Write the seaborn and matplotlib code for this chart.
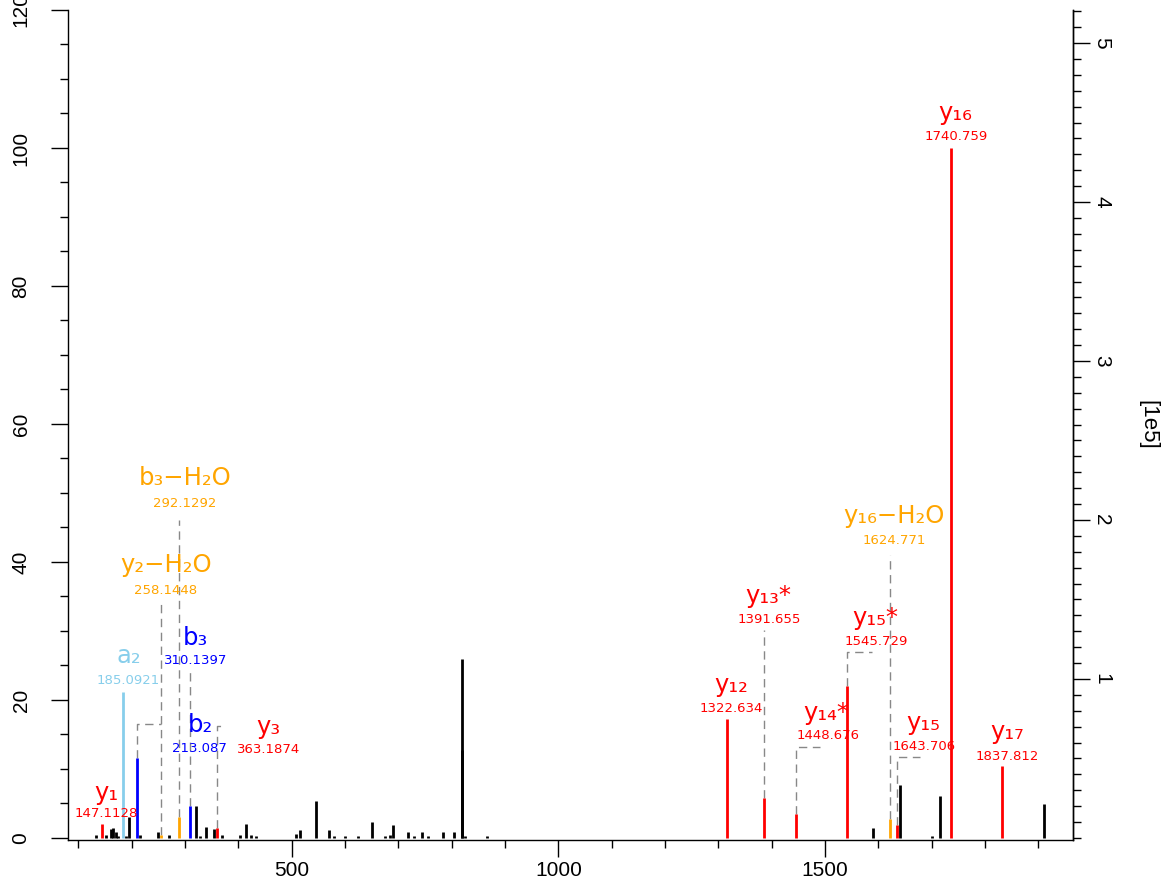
import numpy as np
import pandas as pd
import seaborn as sns
import matplotlib.pyplot as plt
from matplotlib.ticker import MultipleLocator

# unannotated peaks (m/z, relative intensity %)
other_mz = [133, 152, 160.6, 165.6, 170, 174, 188.7, 195, 215.6, 250, 270, 320, 329,
            339.4, 354.4, 370, 403, 414.4, 424, 434, 508, 515, 545, 570, 579, 600,
            625, 650, 675, 684, 690.6, 719, 730, 744, 755, 784, 804, 818.5, 819.8,
            825, 866, 1590.7, 1641, 1701, 1715.6, 1911]
other_int = [0.4, 0.4, 1.3, 1.5, 0.9, 0.3, 0.3, 3.1, 0.4, 0.8, 0.4, 4.6, 0.3,
             1.6, 1.3, 0.4, 0.4, 2.0, 0.4, 0.3, 0.5, 1.1, 5.4, 1.1, 0.3, 0.3,
             0.3, 2.3, 0.3, 0.4, 1.9, 0.8, 0.3, 0.8, 0.3, 0.8, 0.8, 25.9, 12.7,
             0.3, 0.3, 1.5, 7.6, 0.3, 6.1, 4.9]

# annotated fragment ions
ion_names = ["y₁", "a₂", "b₂", "y₂−H₂O", "b₃−H₂O", "b₃", "y₃", "y₁₂", "y₁₃*",
             "y₁₄*", "y₁₅*", "y₁₆−H₂O", "y₁₅", "y₁₆", "y₁₇"]
ion_mz_text = ["147.1128", "185.0921", "213.087", "258.1448", "292.1292", "310.1397",
               "363.1874", "1322.634", "1391.655", "1448.676", "1545.729", "1624.771",
               "1643.706", "1740.759", "1837.812"]
ion_mz = [144, 184.4, 210.6, 254.5, 289.3, 309.4, 359.4, 1315.8, 1385.7, 1445.7,
          1541.5, 1621.6, 1635.6, 1735.8, 1831.5]
ion_int = [2.0, 21.2, 11.6, 0.4, 3.1, 4.6, 1.5, 17.3, 5.75, 3.5, 22.0, 2.7, 1.9,
           100, 10.4]
ion_type = ["y", "a", "b", "loss", "loss", "b", "y", "y", "y", "y", "y", "loss",
            "y", "y", "y"]

# label layout: (m/z, %) of ion name and of m/z text
name_x = [153, 194, 328, 264, 300, 319, 456, 1325, 1393, 1503, 1594, 1630, 1684, 1745, 1841]
name_y = [6.5, 26.3, 16.4, 39.6, 52.2, 29.0, 16.1, 22.2, 35.0, 18.1, 31.9, 46.6, 16.7, 105.1, 15.4]
mzlab_x = [153, 194, 327, 264, 299, 320, 457, 1325, 1395, 1506, 1597, 1630, 1686, 1746, 1841]
mzlab_y = [3.5, 22.8, 13.0, 35.9, 48.5, 25.7, 12.75, 18.8, 31.6, 14.9, 28.4, 43.1, 13.2, 101.6, 11.8]

# dashed leader lines: start peak m/z, start %, elbow %, end m/z
lead_mz = [210.6, 254.5, 289.3, 309.4, 359.4, 1385.7, 1445.7, 1541.5, 1621.6, 1635.6]
lead_from = [11.6, 0.4, 3.1, 4.6, 1.5, 5.75, 3.5, 22.0, 2.7, 1.9]
lead_to = [16.5, 34.1, 46.1, 24.3, 16.2, 30.1, 13.2, 26.9, 41.0, 11.7]
lead_end = [254.5, 254.5, 289.3, 309.4, 375, 1385.7, 1490, 1587.7, 1621.6, 1678]

max_abs = 4.34e5  # absolute intensity of the base peak

palette = {"y": "#FF0000", "b": "#0000FF", "a": "#87CEEB", "loss": "#FFA500"}

sns.set_style("ticks")
plt.rcParams['font.family'] = ['Liberation Sans', 'DejaVu Sans']
plt.rcParams['text.color'] = 'black'
plt.rcParams['xtick.color'] = 'black'
plt.rcParams['ytick.color'] = 'black'

fig = plt.figure(figsize=(11.64, 8.83), dpi=100)
ax = fig.add_axes([68 / 1164, 43 / 883, 1005 / 1164, 830 / 883])

peaks = pd.DataFrame({"mz": other_mz, "intensity": other_int})
ions = pd.DataFrame({"mz": ion_mz, "intensity": ion_int, "type": ion_type,
                     "name": ion_names, "label": ion_mz_text})

ax.vlines(peaks["mz"], 0, peaks["intensity"], colors="black", linewidth=2.0)

for i in range(len(lead_mz)):
    xs = [lead_mz[i], lead_mz[i], lead_end[i]]
    ys = [lead_from[i], lead_to[i], lead_to[i]]
    ax.plot(xs, ys, color="#888888", linewidth=1.0, dashes=(6, 4), zorder=1)

ax.vlines(ions["mz"], 0, ions["intensity"],
          colors=[palette[t] for t in ions["type"]], linewidth=2.0, zorder=3)

for i, row in ions.iterrows():
    c = palette[row["type"]]
    ax.text(name_x[i], name_y[i], row["name"], color=c, fontsize=17.5,
            ha="center", va="center", family="DejaVu Sans")
    ax.text(mzlab_x[i], mzlab_y[i], row["label"], color=c, fontsize=9.5,
            ha="center", va="center", family="DejaVu Sans")

ax.set_xlim(80.6, 1965)
ax.set_ylim(-0.3, 120)
ax.xaxis.set_major_locator(MultipleLocator(500))
ax.xaxis.set_minor_locator(MultipleLocator(100))
ax.yaxis.set_major_locator(MultipleLocator(20))
ax.yaxis.set_minor_locator(MultipleLocator(5))
ax.tick_params(axis="both", which="major", length=12, width=1.0, labelsize=15,
               color="black", labelcolor="black")
ax.tick_params(axis="both", which="minor", length=6, width=1.0, color="black")
ax.tick_params(axis="x", pad=3)
ax.tick_params(axis="y", labelrotation=90, pad=15)
for lab in ax.get_yticklabels():
    lab.set_va("center")
ax.spines["top"].set_visible(False)
for s in ["left", "bottom", "right"]:
    ax.spines[s].set_linewidth(1.0)
    ax.spines[s].set_color("black")

ax2 = ax.twinx()
ax2.set_ylim(-0.3 * max_abs / 100 / 1e5, 120 * max_abs / 100 / 1e5)
ax2.yaxis.set_major_locator(MultipleLocator(1))
ax2.yaxis.set_minor_locator(MultipleLocator(0.1))
ax2.set_yticks([1, 2, 3, 4, 5])
ax2.tick_params(axis="y", which="major", length=12, width=1.0, labelsize=15, pad=2,
                labelrotation=270, color="black", labelcolor="black")
ax2.tick_params(axis="y", which="minor", length=6, width=1.0, color="black")
for lab in ax2.get_yticklabels():
    lab.set_va("center")
ax2.spines["top"].set_visible(False)
ax2.spines["left"].set_visible(False)
ax2.spines["bottom"].set_visible(False)
ax2.spines["right"].set_linewidth(1.0)
ax2.spines["right"].set_color("black")
ax2.set_ylabel("[1e5]", fontsize=16, rotation=270, labelpad=34, color="black")

fig.savefig("out.png", dpi=100)
